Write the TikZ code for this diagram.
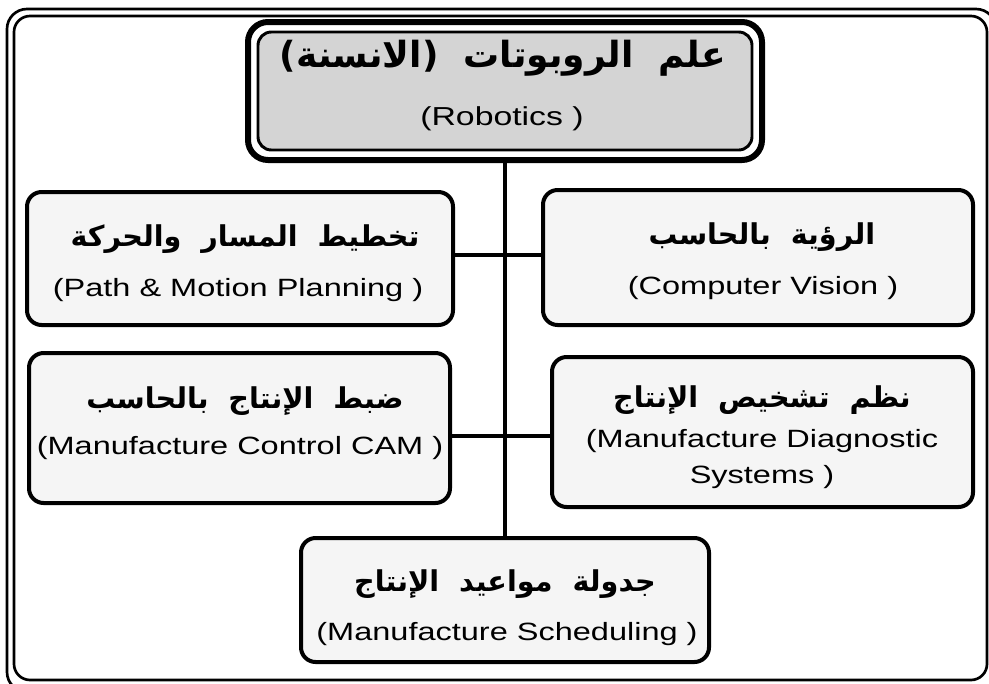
\documentclass[tikz,border=0pt]{standalone}
\usepackage{fontspec}
\setmainfont{Liberation Sans}
\newfontfamily\engfont[FakeStretch=1.3]{Liberation Sans}
\newfontfamily\arabicfont[Script=Arabic]{DejaVu Sans}
\newfontfamily\parenfont{DejaVu Sans}
\TeXXeTstate=1
\begin{document}
\begin{tikzpicture}[x=0.75pt,y=-0.75pt,
  box/.style={draw, line width=3pt, rounded corners=11pt, fill=black!4, inner sep=0pt},
  ar/.style={font=\arabicfont\bfseries\fontsize{21.5}{25}\selectfont, inner sep=0pt},
  en/.style={font=\engfont\fontsize{18.75}{22}\selectfont, inner sep=0pt},
  link/.style={line width=2.6pt},
  frame/.style={line width=2pt}]
\useasboundingbox (0,0) rectangle (989,683);
% outer double frame
\draw[frame, rounded corners=15pt] (7,9) rectangle (996,692);
\draw[frame, rounded corners=12pt] (14,16) rectangle (987,680);
% top box
\node[draw, line width=4.5pt, rounded corners=15pt, fill=white, minimum width=385.5pt, minimum height=103.5pt, inner sep=0pt] (topo) at (505,91) {};
\node[draw, line width=2.2pt, rounded corners=10pt, fill=black!17, minimum width=370.5pt, minimum height=88.5pt, inner sep=0pt] (topi) at (505,91) {};
\node[ar, font=\arabicfont\bfseries\fontsize{27}{32}\selectfont] (ttopar) at (503,58) {{\parenfont\bfseries(}\beginR الانسنة\endR{\parenfont\bfseries)}\ \ \beginR علم\ \ الروبوتات\endR};
\node[en, font=\engfont\fontsize{19.5}{23}\selectfont] (ttopen) at (502,119) {(Robotics )};
% boxes
\node[box, minimum width=319.5pt, minimum height=99.75pt] (path) at (240,258.5) {};
\node[box, minimum width=322.5pt, minimum height=101.25pt] (cv) at (758,257.5) {};
\node[box, minimum width=315.75pt, minimum height=112.5pt] (cam) at (239.5,428) {};
\node[box, minimum width=315.75pt, minimum height=112.5pt] (diag) at (762.5,432) {};
\node[box, minimum width=306pt, minimum height=93pt] (sched) at (505,600) {};
% texts
\node[ar] (pathar) at (245,239) {\beginR تخطيط\ \ المسار\ \ والحركة\endR};
\node[en] (pathen) at (238,290) {(Path \& Motion Planning )};
\node[ar] (cvar) at (762,237) {\beginR الرؤية\ \ بالحاسب\endR};
\node[en] (cven) at (763,288) {(Computer Vision )};
\node[ar] (camar) at (245,401) {\beginR ضبط\ \ الإنتاج\ \ بالحاسب\endR};
\node[en] (camen) at (240,448) {(Manufacture Control CAM )};
\node[ar] (diagar) at (762,400) {\beginR نظم\ \ تشخيص\ \ الإنتاج\endR};
\node[en] (diagen) at (762,441) {(Manufacture Diagnostic};
\node[en] (diagen2) at (762,477) {Systems )};
\node[ar] (schedar) at (505,584) {\beginR جدولة\ \ مواعيد\ \ الإنتاج\endR};
\node[en] (scheden) at (507,634) {(Manufacture Scheduling )};
% connectors
\coordinate (h1) at (500,255);
\coordinate (h2) at (500,436);
\draw[link] (topo.south) -- (sched.north);
\draw[link] (path.east |- h1) -- (cv.west |- h1);
\draw[link] (cam.east |- h2) -- (diag.west |- h2);
\end{tikzpicture}
\end{document}
